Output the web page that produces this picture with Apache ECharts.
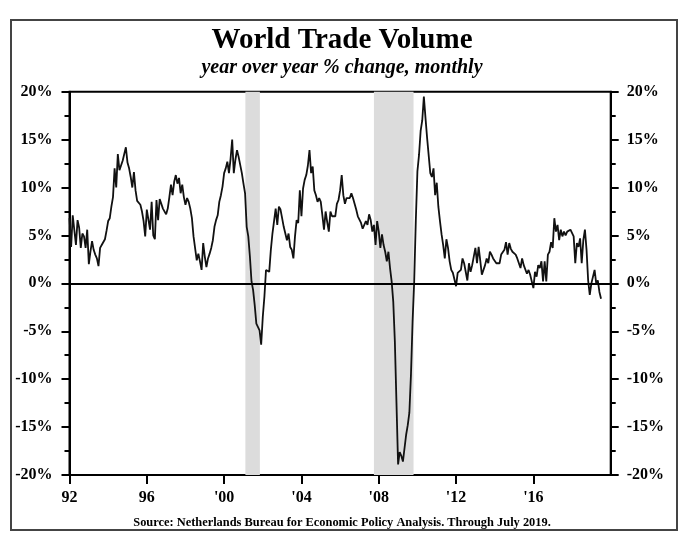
<!DOCTYPE html>
<html>
<head>
<meta charset="utf-8">
<title>World Trade Volume</title>
<script src="https://cdn.jsdelivr.net/npm/echarts@6/dist/echarts.min.js"></script>
<style>
  html, body { margin: 0; padding: 0; background: #fff; }
  #chart { width: 684px; height: 552px; }
</style>
</head>
<body>
<div id="chart"></div>
<script>
// monthly series, starts Jan 1992, ends Jul 2019
var startYear = 1992;
var tradeYoY = [
  6.8, 3.8, 7.1, 7.2, 4.0, 6.6, 5.8, 3.7, 5.2, 4.9, 3.7, 5.6,       // 1992
  2.0, 3.3, 4.4, 3.5, 3.0, 2.6, 1.8, 3.7, 4.0, 3.8, 4.6, 5.5,       // 1993
  6.5, 6.8, 8.0, 9.0, 12.0, 10.0, 13.5, 11.8, 12.0, 12.8, 13.5, 14.2, // 1994
  12.6, 12.0, 11.1, 10.0, 11.6, 9.7, 8.6, 8.4, 8.2, 7.5, 6.5, 4.9,  // 1995
  7.7, 7.8, 5.6, 8.5, 5.0, 4.6, 8.7, 6.6, 8.8, 8.9, 7.8, 8.0,       // 1996
  7.2, 7.8, 9.0, 10.3, 9.2, 10.6, 11.3, 10.4, 11.0, 9.4, 10.3, 9.0, // 1997
  8.2, 8.9, 8.5, 7.8, 6.8, 4.9, 5.0, 2.4, 3.1, 2.3, 1.4, 4.2,       // 1998
  2.8, 1.7, 2.6, 3.1, 3.7, 4.5, 5.9, 6.6, 7.1, 8.5, 9.2, 10.1,      // 1999
  11.5, 12.0, 12.7, 11.5, 13.0, 15.0, 11.5, 12.9, 13.9, 13.2, 13.0, 11.5, // 2000
  10.4, 9.4, 5.9, 4.9, 2.8, 0.2, -0.7, -2.3, -4.2, -4.3, -4.9, -6.4, // 2001
  -3.5, -1.4, 1.4, 1.6, 1.2, 3.5, 5.2, 5.0, 7.8, 6.1, 8.0, 7.7,     // 2002
  6.8, 5.9, 5.7, 4.5, 5.2, 3.8, 3.5, 2.6, 4.9, 6.6, 6.3, 9.7,       // 2003
  7.0, 9.9, 10.8, 11.3, 12.3, 13.9, 11.5, 12.2, 9.7, 9.2, 8.5, 8.9, // 2004
  8.5, 7.1, 5.6, 7.5, 6.4, 5.4, 7.5, 7.0, 7.1, 7.0, 8.3, 8.7,       // 2005
  9.7, 11.3, 9.2, 8.3, 8.9, 8.7, 8.9, 9.4, 8.9, 8.7, 7.7, 7.0,      // 2006
  7.1, 6.3, 5.7, 5.9, 6.5, 6.1, 7.2, 6.6, 5.4, 6.1, 4.0, 6.5,       // 2007
  5.4, 3.7, 5.1, 4.0, 3.3, 2.3, 3.3, 1.6, 0.2, -1.9, -6.1, -12.5,   // 2008
  -18.9, -17.6, -18.0, -18.6, -18.5, -15.8, -14.8, -13.5, -9.5, -4.0, 0.2, 6.5, // 2009
  11.7, 13.4, 15.9, 17.0, 19.5, 17.3, 15.2, 15.0, 11.5, 11.1, 12.0, 9.2, // 2010
  10.5, 8.0, 6.5, 5.1, 4.0, 2.6, 4.6, 3.7, 2.3, 1.4, 1.1, 1.2,      // 2011
  -0.3, 1.1, 1.0, 1.4, 2.6, 2.1, 2.3, 0.3, 2.1, 1.2, 1.9, 1.9,      // 2012
  3.7, 2.1, 3.8, 2.4, 0.9, 0.7, 1.9, 2.6, 2.1, 3.3, 3.0, 2.6,       // 2013
  2.4, 2.1, 2.3, 2.1, 3.0, 2.8, 3.5, 4.3, 3.0, 4.2, 3.6, 3.3,       // 2014
  3.5, 3.0, 2.6, 2.1, 1.6, 2.6, 1.9, 2.1, 1.0, 1.4, 0.9, 1.0,       // 2015
  -0.5, 1.2, 0.7, 1.9, 1.6, 2.3, 0.2, 2.3, 0.2, 3.0, 3.3, 4.3,      // 2016
  3.7, 6.8, 5.4, 6.1, 4.5, 5.6, 4.9, 5.4, 5.0, 5.4, 5.2, 5.6,       // 2017
  5.7, 4.9, 2.1, 4.2, 3.8, 4.7, 2.1, 4.5, 5.6, 3.5, 0.3, -1.2,      // 2018
  0.0, 0.2, 1.4, 0.0, 0.3, -0.9, -1.6                               // 2019
];

// shaded periods (decimal years)
var recessions = [
  [2001.1, 2001.85],
  [2007.75, 2009.8]
];

var xTicks = [1992, 1996, 2000, 2004, 2008, 2012, 2016];
var yMin = -20, yMax = 20, yStep = 5;

var serif = "'Liberation Serif', 'Times New Roman', serif";

var lineData = tradeYoY.map(function (v, i) {
  return [startYear + i / 12, v];
});

function yearLabel(v) {
  var s = String(v).slice(2);
  return v < 2000 ? s : "'" + s;
}

var yAxisBase = {
  type: 'value',
  min: yMin,
  max: yMax,
  interval: yStep,
  splitLine: { show: false },
  axisLine: { show: true, lineStyle: { color: '#000', width: 2 } },
  axisTick: { show: true, length: 8, lineStyle: { color: '#000', width: 2 } },
  minorTick: { show: true, splitNumber: 2, length: 5, lineStyle: { color: '#000', width: 2 } },
  axisLabel: {
    formatter: '{value}%',
    margin: 17,
    color: '#000',
    fontFamily: serif,
    fontWeight: 'bold',
    fontSize: 16
  }
};

var myChart = echarts.init(document.getElementById('chart'));

var option = {
  animation: false,
  backgroundColor: '#fff',
  title: [
    {
      text: 'World Trade Volume',
      left: 'center',
      top: 21,
      textStyle: { fontFamily: serif, fontWeight: 'bold', fontSize: 29, color: '#000' }
    },
    {
      text: 'year over year % change, monthly',
      left: 'center',
      top: 53,
      textStyle: { fontFamily: serif, fontWeight: 'bold', fontStyle: 'italic', fontSize: 20, color: '#000' }
    },
    {
      text: 'Source: Netherlands Bureau for Economic Policy Analysis. Through July 2019.',
      left: 'center',
      top: 512,
      textStyle: { fontFamily: serif, fontWeight: 'bold', fontSize: 12.4, color: '#000' }
    }
  ],
  graphic: [{
    type: 'rect',
    shape: { x: 11, y: 20, width: 666, height: 510 },
    style: { fill: 'none', stroke: '#444', lineWidth: 2 },
    silent: true
  }],
  grid: {
    left: 69.5,
    right: 73.3,
    top: 91.7,
    bottom: 77,
    show: true,
    borderColor: '#000',
    borderWidth: 2,
    backgroundColor: 'transparent'
  },
  xAxis: {
    type: 'value',
    min: 1992,
    max: 2020,
    splitLine: { show: false },
    axisLine: { show: true, onZero: false, lineStyle: { color: '#000', width: 2 } },
    axisTick: { show: true, length: 9, customValues: xTicks, lineStyle: { color: '#000', width: 2 } },
    axisLabel: {
      customValues: xTicks,
      formatter: yearLabel,
      margin: 15,
      color: '#000',
      fontFamily: serif,
      fontWeight: 'bold',
      fontSize: 16
    }
  },
  yAxis: [
    Object.assign({}, yAxisBase, { position: 'left' }),
    Object.assign({}, yAxisBase, { position: 'right', axisLabel: Object.assign({}, yAxisBase.axisLabel, { margin: 16 }) })
  ],
  series: [{
    name: 'World Trade Volume',
    type: 'line',
    data: lineData,
    showSymbol: false,
    lineStyle: { color: '#111', width: 1.8 },
    z: 3,
    markArea: {
      silent: true,
      itemStyle: { color: '#dcdcdc' },
      data: recessions.map(function (r) {
        return [{ xAxis: r[0] }, { xAxis: r[1] }];
      })
    },
    markLine: {
      silent: true,
      symbol: ['none', 'none'],
      label: { show: false },
      lineStyle: { color: '#000', width: 2, type: 'solid' },
      data: [{ yAxis: 0 }]
    }
  }]
};

myChart.setOption(option);
</script>
</body>
</html>
